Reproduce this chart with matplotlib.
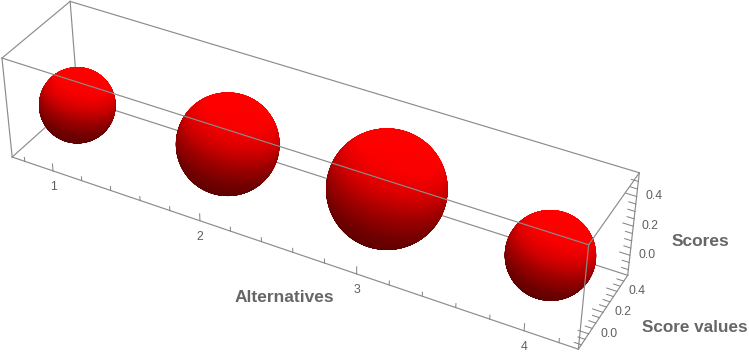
import numpy as np
import matplotlib
matplotlib.use('Agg')
import matplotlib.pyplot as plt
from mpl_toolkits.mplot3d import proj3d

plt.rcParams['font.family'] = ['Liberation Sans', 'DejaVu Sans']

alternatives = [1, 2, 3, 4]
scores = [0.15, 0.187, 0.21, 0.16]  # sphere centre, y and z
radii = [0.222, 0.293, 0.333, 0.24]

xlim = (0.71, 4.31)
ylim = (-0.14, 0.557)
zlim = (-0.14, 0.557)
xmajor = [1, 2, 3, 4]
ymajor = [0.0, 0.2, 0.4]
zmajor = [0.0, 0.2, 0.4]
xminor = np.arange(0.8, 4.3, 0.2)
yminor = np.arange(-0.1, 0.55, 0.05)
zminor = np.arange(-0.1, 0.55, 0.05)

LINE = '#8c8c8c'
TICK = '#808080'
LABEL = '#5f5f5f'
TITLE = '#666666'

fig = plt.figure(figsize=(7.49, 3.53), dpi=100)
ax = fig.add_axes([0, 0, 1, 1], projection='3d', computed_zorder=False)
ax.set_axis_off()
ax.set_xlim(*xlim)
ax.set_ylim(*ylim)
ax.set_zlim(*zlim)
ax.view_init(36.134, -61.428, 0.058)
ax.set_proj_type('persp', focal_length=1.1087)
ax.set_box_aspect((3.6, 0.6973, 0.6972), zoom=1.8363)
ax.set_position([-0.0946, 0.0206, 1, 1])


def edge(xs, ys, zs, z, color=LINE, lw=0.85):
    ax.plot(xs, ys, zs, color=color, lw=lw, zorder=z, clip_on=False)


def label(x, y, z, s, dx, dy):
    # 3d point to the projected plane, then a pixel offset from the tick
    px, py, _ = proj3d.proj_transform(x, y, z, ax.get_proj())
    ax.annotate(s, (px, py), xytext=(dx, dy), textcoords='offset pixels', color=LABEL,
                fontsize=8.8, ha='center', va='center', annotation_clip=False, zorder=4)


# box: back edges go behind the spheres, front ones on top
x0, x1 = xlim
y0, y1 = ylim
z0, z1 = zlim
edge([x0, x1], [y1, y1], [z0, z0], 1)
edge([x0, x0], [y1, y1], [z0, z1], 1)
edge([x0, x0], [y0, y1], [z0, z0], 1)
edge([x1, x1], [y0, y1], [z0, z0], 3)
edge([x1, x1], [y1, y1], [z0, z1], 3)
edge([x0, x1], [y0, y0], [z0, z0], 3)
edge([x0, x1], [y1, y1], [z1, z1], 3)
edge([x0, x1], [y0, y0], [z1, z1], 3)
edge([x0, x0], [y0, y0], [z0, z1], 3)
edge([x1, x1], [y0, y0], [z0, z1], 3)
edge([x0, x0], [y0, y1], [z1, z1], 3)
edge([x1, x1], [y0, y1], [z1, z1], 3)

# spheres, lit from above the camera
el, az = np.radians(36.134), np.radians(-61.428)
cam = np.array([np.cos(el) * np.cos(az), np.cos(el) * np.sin(az), np.sin(el)])
right = np.array([-np.sin(az), np.cos(az), 0])
up = np.cross(cam, right)
light = 0.25 * right + 0.8 * up + 0.5 * cam
u = np.linspace(0, 2 * np.pi, 181)
v = np.linspace(0, np.pi, 91)
nx = np.outer(np.cos(u), np.sin(v))
ny = np.outer(np.sin(u), np.sin(v))
nz = np.outer(np.ones_like(u), np.cos(v))
shade = np.interp(nx * light[0] + ny * light[1] + nz * light[2],
                  [-0.8, -0.3, 0.1, 0.5, 0.75], [0.36, 0.45, 0.62, 0.88, 1.0])
colors = np.zeros(shade.shape + (4,))
colors[..., 0] = shade
colors[..., 3] = 1
for a, s, r in zip(alternatives, scores, radii):
    ax.plot_surface(a + r * nx, s + r * ny, s + r * nz, facecolors=colors,
                    rstride=1, cstride=1, linewidth=0.3,
                    shade=False, antialiased=True, zorder=2, clip_on=False)

# ticks
for t in xminor:
    major = abs(t - round(t)) < 1e-6
    edge([t, t], [y0, y0], [z0, z0 + (0.05 if major else 0.028)], 3, TICK, 0.7)
for t in yminor:
    major = abs(t * 5 - round(t * 5)) < 1e-6
    edge([x1, x1 - (0.06 if major else 0.04)], [t, t], [z0, z0], 3, TICK, 0.7)
for t in zminor:
    major = abs(t * 5 - round(t * 5)) < 1e-6
    edge([x1, x1 - (0.06 if major else 0.04)], [y1, y1], [t, t], 3, TICK, 0.7)

for t in xmajor:
    label(t, y0, z0, str(t), 0, -16)
for t in ymajor:
    label(x1, t, z0, '%.1f' % t, 20, 0)
for t in zmajor:
    label(x1, y1, t, '%.1f' % t, 17, 0)

fig.text(284 / 749, 1 - 298 / 353, 'Alternatives', color=TITLE, fontsize=12.5,
         fontweight='bold', ha='center', va='center')
fig.text(700 / 749, 1 - 241 / 353, 'Scores', color=TITLE, fontsize=12.5,
         fontweight='bold', ha='center', va='center')
fig.text(695 / 749, 1 - 327 / 353, 'Score values', color=TITLE, fontsize=12.3,
         fontweight='bold', ha='center', va='center')

fig.savefig('out.png', dpi=100)
